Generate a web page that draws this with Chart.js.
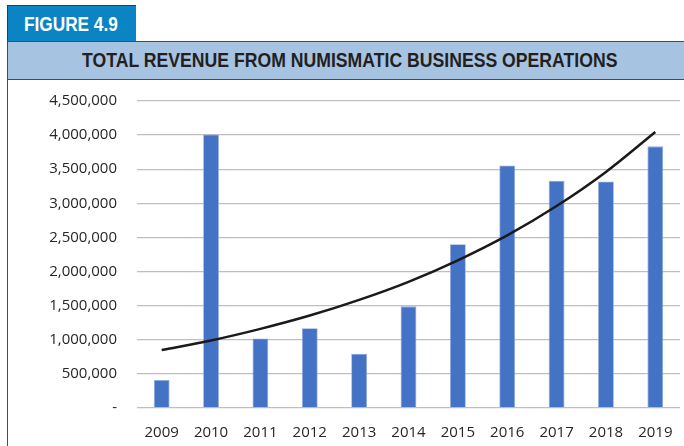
<!DOCTYPE html>
<html>
<head>
<meta charset="utf-8">
<script src="https://cdn.jsdelivr.net/npm/chart.js@4.4.1/dist/chart.umd.min.js"></script>
<style>
  html, body { margin: 0; padding: 0; background: #fff; }
  body { width: 684px; height: 446px; position: relative; overflow: hidden; }
  .tab {
    position: absolute; left: 7px; top: 5px; width: 129px; height: 36px; z-index: 2;
    background: #0a84c2; border-top: 1px solid #3a3a3a; border-left: 1px solid #3a3a3a;
    box-sizing: border-box;
  }
  .tab span {
    position: absolute; left: 16px; top: 6px; white-space: nowrap;
    font: bold 21px "Liberation Sans", Arial, sans-serif;
    color: #fff; transform: scaleX(0.82); transform-origin: left top;
  }
  .band {
    position: absolute; left: 7px; top: 41px; width: 677px; height: 39px; z-index: 2;
    background: #a6c3e2; border-top: 1px solid #4a4a4a; border-bottom: 1px solid #4a4a4a;
    border-left: 1px solid #4a4a4a; box-sizing: border-box;
  }
  .band span {
    position: absolute; left: 74px; top: 6px; white-space: nowrap;
    font: bold 21px "Liberation Sans", Arial, sans-serif;
    color: #231f20; transform: scaleX(0.84); transform-origin: left top;
  }
  .frame {
    position: absolute; left: 7px; top: 80px; width: 1px; height: 366px; background: #4a4a4a;
  }
  .wrap { position: absolute; left: 8px; top: 72px; width: 676px; height: 374px; z-index: 1; }
</style>
</head>
<body>
<div class="tab"><span>FIGURE 4.9</span></div>
<div class="band"><span>TOTAL REVENUE FROM NUMISMATIC BUSINESS OPERATIONS</span></div>
<div class="frame"></div>
<div class="wrap"><canvas id="chart"></canvas></div>
<script>
const years = ['2009', '2010', '2011', '2012', '2013', '2014', '2015', '2016', '2017', '2018', '2019'];
const revenue = [410000, 4010000, 1020000, 1170000, 795000, 1490000, 2400000, 3555000, 3330000, 3320000, 3835000];
const trend = [850000, 990000, 1160000, 1355000, 1585000, 1850000, 2165000, 2530000, 2960000, 3460000, 4045000];
const yMax = 4500000;
const yStep = 500000;

const ctx = document.getElementById('chart').getContext('2d');
new Chart(ctx, {
  data: {
    labels: years,
    datasets: [
      {
        type: 'line',
        data: trend,
        borderColor: '#1a1a1a',
        borderWidth: 2.5,
        pointRadius: 0,
        tension: 0.4,
        cubicInterpolationMode: 'monotone',
        fill: false,
        order: 0,
      },
      {
        type: 'bar',
        data: revenue,
        backgroundColor: '#4472c4',
        borderColor: '#8eaadb',
        borderWidth: 0.8,
        barPercentage: 0.32,
        categoryPercentage: 1,
        order: 1,
      },
    ],
  },
  options: {
    responsive: true,
    maintainAspectRatio: false,
    animation: false,
    layout: { padding: { top: 2, right: 4, left: 0, bottom: 0 } },
    plugins: { legend: { display: false }, tooltip: { enabled: false } },
    scales: {
      x: {
        grid: { display: false },
        border: { display: false },
        ticks: { color: '#262626', padding: 8, font: { family: '"Open Sans"', size: 15 } },
        afterFit: s => { s.height = 38; },
      },
      y: {
        min: 0,
        max: yMax,
        grid: { color: '#bfbfbf', lineWidth: 1.3, drawTicks: false },
        border: { display: false },
        ticks: {
          stepSize: yStep,
          padding: 20,
          color: '#262626',
          font: { family: '"Open Sans"', size: 15 },
          callback: v => (v === 0 ? '-' : v.toLocaleString('en-US')),
        },
        afterFit: s => { s.width = 129; },
      },
    },
  },
});
</script>
</body>
</html>
